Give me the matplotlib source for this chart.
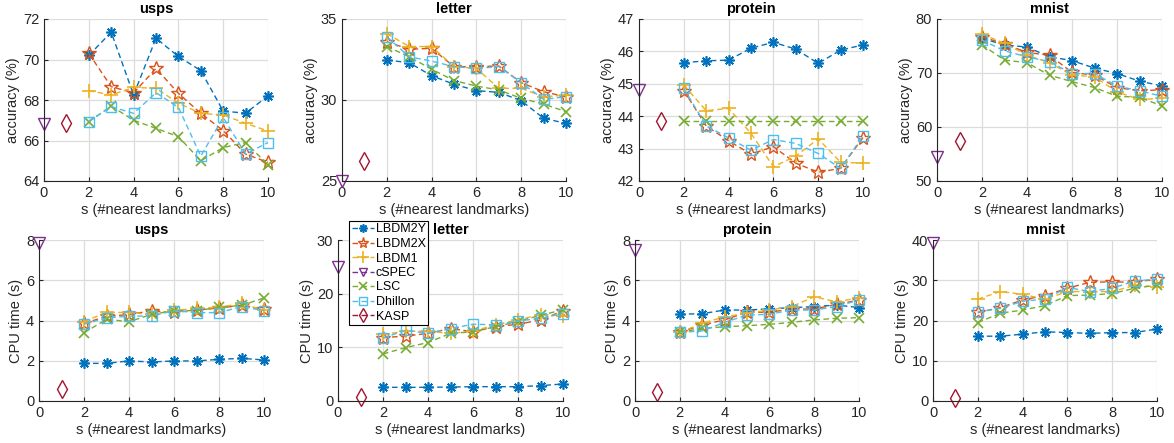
import matplotlib
matplotlib.use('Agg')
import matplotlib.pyplot as plt
import numpy as np

plt.rcParams['font.family'] = ['Liberation Sans', 'DejaVu Sans']

s = [2, 3, 4, 5, 6, 7, 8, 9, 10]
datasets = ['usps', 'letter', 'protein', 'mnist']
methods = ['LBDM2Y', 'LBDM2X', 'LBDM1', 'cSPEC', 'LSC', 'Dhillon', 'KASP']

# accuracy (%)
acc_lbdm2y = {'usps': [70.2, 71.35, 68.25, 71.05, 70.15, 69.45, 67.45, 67.35, 68.2],
              'letter': [32.47, 32.3, 31.5, 30.97, 30.58, 30.47, 29.96, 28.87, 28.56],
              'protein': [45.65, 45.71, 45.73, 46.1, 46.28, 46.07, 45.63, 46.04, 46.2],
              'mnist': [76.4, 75.2, 74.8, 73.0, 72.3, 70.9, 69.9, 68.5, 67.6]}
acc_lbdm2x = {'usps': [70.3, 68.66, 68.35, 69.56, 68.33, 67.34, 66.49, 65.33, 64.92],
              'letter': [33.6, 33.13, 33.19, 32.06, 32.06, 32.1, 31.07, 30.51, 30.2],
              'protein': [44.79, 43.7, 43.24, 42.83, 43.06, 42.55, 42.27, 42.39, 43.34],
              'mnist': [76.7, 75.4, 73.8, 73.3, 70.1, 69.6, 67.3, 66.7, 66.9]}
acc_lbdm1 = {'usps': [68.46, 68.25, 68.62, 68.58, 67.84, 67.34, 67.26, 66.85, 66.47],
             'letter': [34.1, 33.3, 33.3, 32.06, 31.95, 30.72, 30.72, 30.2, 30.3],
             'protein': [44.96, 44.17, 44.24, 43.47, 42.44, 42.77, 43.3, 42.58, 42.55],
             'mnist': [77.2, 75.5, 73.3, 71.9, 69.6, 69.3, 66.5, 65.1, 65.3]}
acc_lsc = {'usps': [66.93, 67.7, 67.0, 66.6, 66.19, 65.0, 65.65, 65.9, 64.8],
           'letter': [33.3, 32.67, 31.9, 31.2, 30.86, 30.62, 30.1, 29.75, 29.28],
           'protein': [43.86, 43.86, 43.86, 43.86, 43.86, 43.86, 43.86, 43.86, 43.86],
           'mnist': [75.2, 72.4, 71.9, 69.6, 68.4, 67.3, 65.7, 65.5, 63.9]}
acc_dhillon = {'usps': [66.93, 67.67, 67.34, 68.36, 67.64, 65.23, 67.14, 65.33, 65.9],
               'letter': [33.9, 32.67, 32.4, 32.06, 31.95, 32.06, 31.07, 30.04, 30.2],
               'protein': [44.86, 43.7, 43.33, 42.95, 43.28, 43.16, 42.85, 42.39, 43.39],
               'mnist': [76.1, 74.1, 73.0, 72.1, 69.9, 69.9, 67.6, 66.7, 65.7]}
acc_cspec = {'usps': 66.82, 'letter': 25.0, 'protein': 44.81, 'mnist': 54.4}
acc_kasp = {'usps': 66.88, 'letter': 26.23, 'protein': 43.85, 'mnist': 57.4}

# CPU time (s)
cpu_lbdm2y = {'usps': [1.87, 1.87, 1.99, 1.94, 1.99, 1.99, 2.07, 2.12, 2.04],
              'letter': [2.55, 2.55, 2.55, 2.6, 2.67, 2.67, 2.67, 2.86, 3.17],
              'protein': [4.31, 4.34, 4.52, 4.52, 4.58, 4.64, 4.69, 4.77, 4.64],
              'mnist': [16.1, 16.1, 16.6, 17.2, 17.0, 16.8, 17.0, 17.0, 17.9]}
cpu_lbdm2x = {'usps': [3.86, 4.2, 4.3, 4.48, 4.4, 4.52, 4.62, 4.75, 4.56],
              'letter': [11.8, 12.1, 12.6, 13.5, 12.9, 13.85, 14.3, 15.1, 16.8],
              'protein': [3.41, 3.78, 4.03, 4.41, 4.41, 4.57, 4.57, 4.8, 5.02],
              'mnist': [22.0, 23.2, 25.1, 26.2, 28.0, 29.5, 29.6, 29.5, 30.3]}
cpu_lbdm1 = {'usps': [3.95, 4.4, 4.4, 4.3, 4.5, 4.6, 4.65, 4.85, 4.5],
             'letter': [12.4, 13.0, 13.0, 12.6, 13.0, 14.2, 15.1, 16.1, 15.9],
             'protein': [3.41, 3.86, 4.19, 4.36, 4.52, 4.69, 5.18, 4.93, 5.13],
             'mnist': [25.3, 27.2, 26.5, 25.3, 27.2, 27.2, 27.2, 28.7, 28.4]}
cpu_lsc = {'usps': [3.39, 4.06, 3.94, 4.3, 4.49, 4.49, 4.65, 4.75, 5.12],
           'letter': [8.76, 9.94, 10.9, 12.6, 12.9, 13.85, 14.8, 16.0, 16.96],
           'protein': [3.41, 3.61, 3.69, 3.74, 3.81, 3.91, 4.03, 4.11, 4.14],
           'mnist': [19.5, 21.8, 22.6, 23.7, 26.2, 26.3, 26.7, 28.0, 28.8]}
cpu_dhillon = {'usps': [3.82, 4.12, 4.22, 4.22, 4.49, 4.39, 4.39, 4.69, 4.49],
               'letter': [11.7, 13.2, 12.6, 13.5, 14.3, 14.2, 14.9, 15.4, 16.3],
               'protein': [3.41, 3.48, 3.91, 4.27, 4.31, 4.52, 4.52, 4.69, 5.02],
               'mnist': [22.1, 23.0, 24.8, 25.3, 28.2, 27.2, 28.0, 29.8, 30.3]}
cpu_cspec = {'usps': 7.85, 'letter': 24.9, 'protein': 7.5, 'mnist': 39.2}
cpu_kasp = {'usps': 0.6, 'letter': 0.7, 'protein': 0.43, 'mnist': 0.66}

acc_ticks = {'usps': [64, 66, 68, 70, 72], 'letter': [25, 30, 35],
             'protein': [42, 43, 44, 45, 46, 47], 'mnist': [50, 60, 70, 80]}
cpu_ticks = {'usps': [0, 2, 4, 6, 8], 'letter': [0, 10, 20, 30],
             'protein': [0, 2, 4, 6, 8], 'mnist': [0, 10, 20, 30, 40]}

# MATLAB default colour order
c_y, c_x, c_1 = '#0072BD', '#D95319', '#EDB120'
c_cs, c_lsc, c_dh, c_ka = '#7E2F8E', '#77AC30', '#4DBEEE', '#A2142F'
asterisk = (8, 2, 0)
dash = (4, 2.5)

W, H = 1174, 443
top_pos = [(44, 268), (342, 566), (639, 863), (937, 1162)]
bot_pos = [(39, 264), (338, 563), (635, 859), (933, 1157)]

fig = plt.figure(figsize=(W / 100, H / 100), dpi=100)


def make_ax(l, r, t, b):
    ax = fig.add_axes([l / W, 1 - b / H, (r - l) / W, (b - t) / H])
    ax.spines['top'].set_visible(False)
    ax.spines['right'].set_visible(False)
    for sp in ['left', 'bottom']:
        ax.spines[sp].set_color('#262626')
        ax.spines[sp].set_linewidth(0.8)
    ax.grid(True, color='#dcdcdc', linewidth=0.9)
    ax.set_axisbelow(True)
    ax.tick_params(direction='in', length=3, colors='#262626', labelsize=10.5)
    ax.set_xlim(0, 10)
    ax.set_xticks([0, 2, 4, 6, 8, 10])
    ax.set_xlabel('s (#nearest landmarks)', fontsize=10.5, color='#262626', labelpad=2)
    return ax


def draw(ax, y2y, y2x, y1, ylsc, ydh, ycs, yka):
    kw = dict(linestyle='--', dashes=dash, linewidth=1.0, clip_on=False)
    ax.plot(s, y2y, color=c_y, marker=asterisk, markersize=7.5, markeredgewidth=1.2,
            label='LBDM2Y', **kw)
    ax.plot(s, y2x, color=c_x, marker='*', mfc='none', markersize=10,
            markeredgewidth=1.0, label='LBDM2X', **kw)
    ax.plot(s, y1, color=c_1, marker='+', markersize=10, markeredgewidth=1.2,
            label='LBDM1', **kw)
    ax.plot([0], [ycs], color=c_cs, marker='v', mfc='none', markersize=8,
            markeredgewidth=1.0, label='cSPEC', **kw)
    ax.plot(s, ylsc, color=c_lsc, marker='x', markersize=7, markeredgewidth=1.2,
            label='LSC', **kw)
    ax.plot(s, ydh, color=c_dh, marker='s', mfc='none', markersize=7.5,
            markeredgewidth=1.0, label='Dhillon', **kw)
    ax.plot([1], [yka], color=c_ka, marker='d', mfc='none', markersize=9,
            markeredgewidth=1.0, label='KASP', **kw)


legend_ax = None
for i, d in enumerate(datasets):
    l, r = top_pos[i]
    ax = make_ax(l, r, 19, 181)
    draw(ax, acc_lbdm2y[d], acc_lbdm2x[d], acc_lbdm1[d], acc_lsc[d], acc_dhillon[d],
         acc_cspec[d], acc_kasp[d])
    tk = acc_ticks[d]
    ax.set_ylim(tk[0], tk[-1])
    ax.set_yticks(tk)
    ax.set_ylabel('accuracy (%)', fontsize=10.5, color='#262626', labelpad=2)
    ax.set_title(d, fontsize=10.5, fontweight='bold', pad=4)

    l, r = bot_pos[i]
    ax = make_ax(l, r, 240, 401)
    draw(ax, cpu_lbdm2y[d], cpu_lbdm2x[d], cpu_lbdm1[d], cpu_lsc[d], cpu_dhillon[d],
         cpu_cspec[d], cpu_kasp[d])
    tk = cpu_ticks[d]
    ax.set_ylim(tk[0], tk[-1])
    ax.set_yticks(tk)
    ax.set_ylabel('CPU time (s)', fontsize=10.5, color='#262626', labelpad=2)
    ax.set_title(d, fontsize=10.5, fontweight='bold', pad=4)
    if d == 'letter':
        legend_ax = ax

handles, labels = legend_ax.get_legend_handles_labels()
leg = fig.legend(handles, labels, loc='upper left',
                 bbox_to_anchor=(349 / W, 1 - 221 / H), fontsize=9,
                 labelspacing=0.2, handlelength=1.8, handletextpad=0.15,
                 borderpad=0.2, borderaxespad=0, fancybox=False, framealpha=1,
                 edgecolor='black', markerscale=0.8)
leg.get_frame().set_linewidth(0.8)

fig.savefig('out.png', dpi=100)
